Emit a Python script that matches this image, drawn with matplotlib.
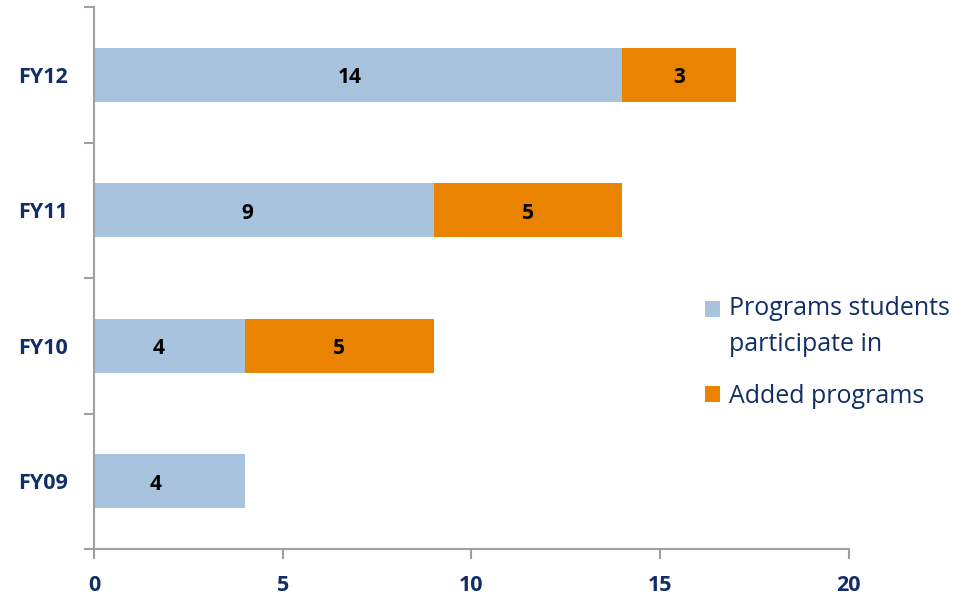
import matplotlib
matplotlib.use("Agg")
import matplotlib.pyplot as plt
import numpy as np

categories = ["FY09", "FY10", "FY11", "FY12"]
participate = [4, 4, 9, 14]
added = [0, 5, 5, 3]
series_names = ["Programs students\nparticipate in", "Added programs"]
x_ticks = [0, 5, 10, 15, 20]

blue = "#a7c3de"
orange = "#e98300"
navy = "#112f66"
grey = "#a0a0a0"
# horizontal nudge (points) of the blue-segment labels, as placed in the original
blue_label_nudge = [-10, -8, -12, -6]

plt.rcParams['font.family'] = ['Open Sans', 'DejaVu Sans']

fig = plt.figure(figsize=(9.69, 5.98), dpi=100)
ax = fig.add_axes([0.097, 0.082, 0.779, 0.906])

y = np.arange(len(categories))
ax.barh(y, participate, height=0.4, color=blue, label=series_names[0])
ax.barh(y, added, left=participate, height=0.4, color=orange, label=series_names[1])

for i in range(len(categories)):
    if participate[i] > 0:
        ax.annotate(str(participate[i]), (participate[i] / 2, y[i]),
                    xytext=(blue_label_nudge[i], -2), textcoords='offset points',
                    ha='center', va='center', fontsize=15, fontweight='bold', color='black')
    if added[i] > 0:
        ax.annotate(str(added[i]), (participate[i] + added[i] / 2, y[i]),
                    xytext=(0, -2), textcoords='offset points',
                    ha='center', va='center', fontsize=15, fontweight='bold', color='black')

ax.set_xlim(0, 20)
ax.set_ylim(-0.5, 3.5)
ax.set_xticks(x_ticks)
ax.set_xticklabels([str(t) for t in x_ticks])
ax.set_yticks(y)
ax.set_yticklabels(categories)
ax.set_yticks(np.arange(-0.5, 4.0, 1.0), minor=True)

for s in ['top', 'right']:
    ax.spines[s].set_visible(False)
for s in ['left', 'bottom']:
    ax.spines[s].set_color(grey)
    ax.spines[s].set_linewidth(1.5)

ax.tick_params(axis='y', which='major', length=0, pad=19, labelsize=15.5, labelcolor=navy)
ax.tick_params(axis='y', which='minor', length=7, width=1.5, color=grey, direction='out')
ax.tick_params(axis='x', which='major', length=7, width=1.5, color=grey, direction='out',
               pad=12, labelsize=15.5, labelcolor=navy)
for lab in ax.get_xticklabels() + ax.get_yticklabels():
    lab.set_fontweight('bold')

leg = ax.legend(loc='upper left', bbox_to_anchor=(0.81, 0.466), frameon=False,
                fontsize=18, handlelength=0.6, handleheight=0.6, handletextpad=0.35,
                labelspacing=1.08, labelcolor=navy, borderaxespad=0, borderpad=0)
leg.get_texts()[0].set_linespacing(1.55)
h0 = leg.legend_handles[0]
h0.set_y(h0.get_y() + 13)

fig.savefig("out.png", dpi=100)
